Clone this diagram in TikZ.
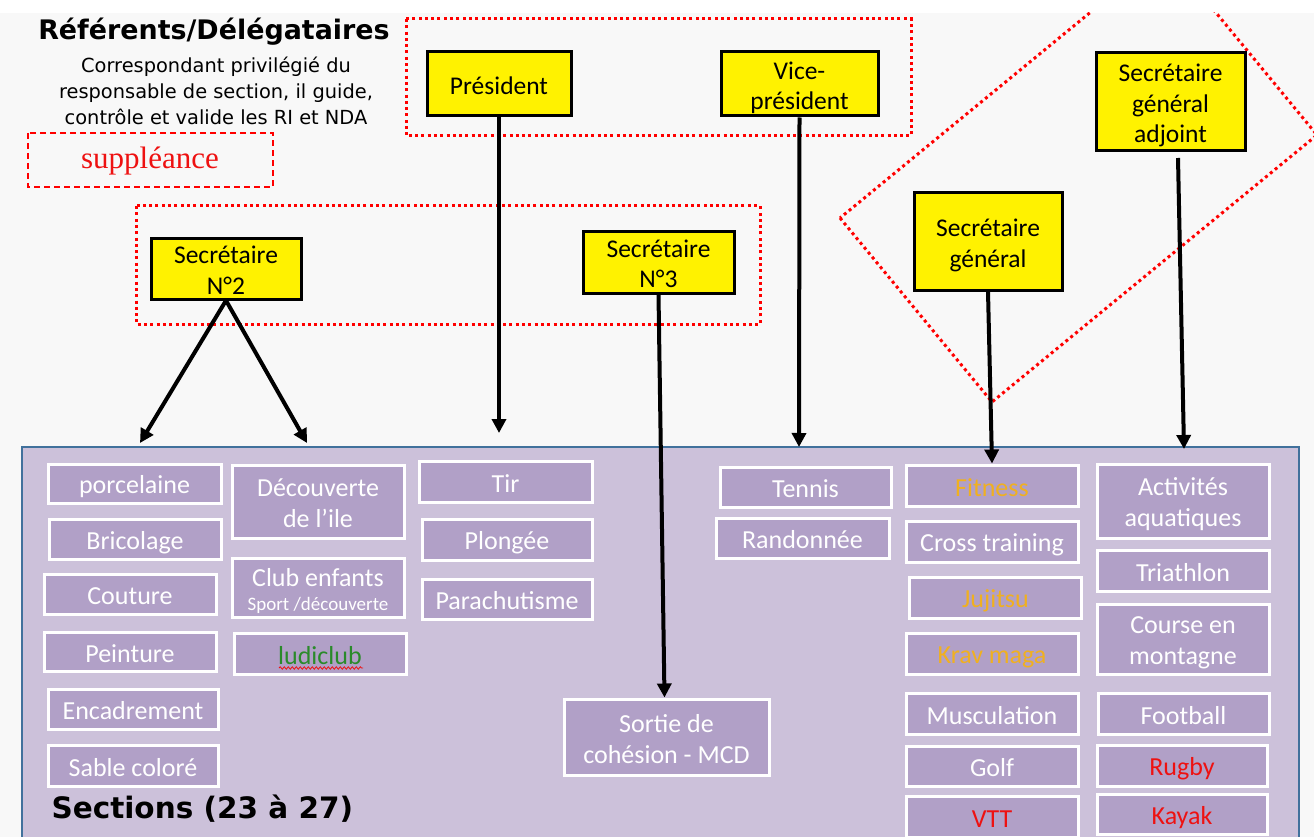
\documentclass[tikz,border=0pt]{standalone}
\usepackage{fontspec}
\setmainfont{Carlito}
\newfontfamily\dejavu{DejaVu Sans}
\newfontfamily\serifr{Liberation Serif}
\usetikzlibrary{arrows.meta,decorations.pathmorphing}
\definecolor{boxfill}{HTML}{B1A0C7}
\definecolor{bigfill}{HTML}{CCC1DA}
\definecolor{bigborder}{HTML}{41719C}
\definecolor{bgrey}{HTML}{F8F8F8}
\definecolor{orangetxt}{HTML}{F0B020}
\definecolor{redtxt}{HTML}{EE1111}
\definecolor{greentxt}{HTML}{2A8A2A}
\definecolor{dotred}{HTML}{FF0000}
\newcommand\ms{\rule[-4pt]{0pt}{29pt}}
\tikzset{
  ybox/.style={draw=black, line width=3pt, fill=yellow, text=black, align=center, inner sep=0pt,
    font=\fontsize{25.5}{30.5}\selectfont},
  ibox/.style={draw=white, line width=3pt, fill=boxfill, text=white, align=center, inner sep=0pt,
    font=\fontsize{26}{31}\selectfont},
  reddots/.style={draw=dotred, line width=3pt, dash pattern=on 3pt off 3.3pt},
  arr/.style={draw=black, line width=4pt, -{Triangle[width=14pt,length=14pt]}},
}
\begin{document}
\begin{tikzpicture}[x=1pt,y=-1pt]
\useasboundingbox (0,0) rectangle (1314,837);
\clip (0,0) rectangle (1314,837);
\fill[white] (0,0) rectangle (1314,837);
\fill[bgrey] (0,13) rectangle (1314,837);

% titles
\node[font=\dejavu\bfseries\fontsize{26.9}{30}\selectfont] (title) at (214,32) {Référents/Délégataires};
\node[align=center, font=\dejavu\fontsize{19.4}{26}\selectfont] (subtitle) at (216,90.5) {Correspondant privilégié du\\responsable de section, il guide,\\contrôle et valide les RI et NDA};
\draw[dotred, line width=1.5pt, dash pattern=on 6pt off 4pt] (28,133) rectangle (273,187);
\node[text=redtxt, font=\serifr\fontsize{31}{34}\selectfont] (supp) at (150,161) {suppléance};

% dotted frames
\draw[reddots] (406,19) rectangle (911,136);
\draw[reddots] (136,206) rectangle (760,324);
\begin{scope}
\clip (0,13) rectangle (1314,837);
\draw[reddots] (840,218) -- (992,402) -- (1317,135) -- (1165,-49) -- cycle;
\end{scope}

% big box
\draw[bigborder, line width=2pt, fill=bigfill] (22,447) rectangle (1299,860);

% yellow boxes
\node[ybox, minimum width=144pt, minimum height=64pt] (pres) at (499,84) {\ms Président};
\node[ybox, minimum width=157pt, minimum height=64pt] (vp) at (799.5,84) {\ms Vice-\\\ms président};
\node[ybox, minimum width=150pt, minimum height=61pt] (sg2) at (226,268.5) {\ms Secrétaire\\\ms N°2};
\node[ybox, minimum width=151pt, minimum height=62pt] (sg3) at (658.5,262) {\ms Secrétaire\\\ms N°3};
\node[ybox, minimum width=148pt, minimum height=97pt] (sgen) at (988,241.5) {\ms Secrétaire\\\ms général};
\node[ybox, minimum width=149pt, minimum height=98pt] (sga) at (1170.5,102) {\ms Secrétaire\\\ms général\\\ms adjoint};

% inner boxes
\node[ibox, minimum width=173pt, minimum height=39pt] (porc) at (134.5,483.5) {\ms porcelaine};
\node[ibox, minimum width=172pt, minimum height=40pt] (bric) at (135,539) {\ms Bricolage};
\node[ibox, minimum width=172pt, minimum height=40pt] (cout) at (130,594) {\ms Couture};
\node[ibox, minimum width=172pt, minimum height=39pt] (pein) at (130,651.5) {\ms Peinture};
\node[ibox, minimum width=170pt, minimum height=40pt] (enca) at (133,709) {\ms Encadrement};
\node[ibox, minimum width=170pt, minimum height=41pt] (sable) at (133,765.5) {\ms Sable coloré};
\node[ibox, minimum width=172pt, minimum height=73pt] (decou) at (318,501.5) {\ms Découverte\\\ms de l’ile};
\node[ibox, minimum width=172pt, minimum height=59pt] (club) at (318,587.5) {\ms Club enfants\\[-7pt]{\fontsize{19}{22}\selectfont\rule[-3pt]{0pt}{18pt}Sport /découverte}};
\node[ibox, minimum width=172pt, minimum height=41pt, text=greentxt] (ludi) at (320,653.5) {\ms ludiclub};
\draw[redtxt, line width=0.8pt, decorate, decoration={snake, segment length=4pt, amplitude=1.2pt}] (279,668) -- (363,668);
\node[ibox, minimum width=173pt, minimum height=41pt] (tir) at (505.5,481.5) {\ms Tir};
\node[ibox, minimum width=170pt, minimum height=41pt] (plon) at (507,539.5) {\ms Plongée};
\node[ibox, minimum width=170pt, minimum height=40pt] (para) at (507,599) {\ms Parachutisme};
\node[ibox, minimum width=171pt, minimum height=40pt] (tenn) at (805.5,487) {\ms Tennis};
\node[ibox, minimum width=173pt, minimum height=40pt] (rand) at (802.5,538) {\ms Randonnée};
\node[ibox, minimum width=205pt, minimum height=76pt] (sortie) at (666.5,737) {\ms Sortie de\\\ms cohésion - MCD};
\node[ibox, minimum width=172pt, minimum height=41pt, text=orangetxt] (fit) at (992,485.5) {\ms Fitness};
\node[ibox, minimum width=172pt, minimum height=41pt] (cross) at (992,541.5) {\ms Cross training};
\node[ibox, minimum width=172pt, minimum height=41pt, text=orangetxt] (juji) at (995.5,597.5) {\ms Jujitsu};
\node[ibox, minimum width=172pt, minimum height=41pt, text=orangetxt] (krav) at (992,653.5) {\ms Krav maga};
\node[ibox, minimum width=172pt, minimum height=41pt] (musc) at (992,713.5) {\ms Musculation};
\node[ibox, minimum width=172pt, minimum height=40pt] (golf) at (992,766) {\ms Golf};
\node[ibox, minimum width=172pt, minimum height=41pt, text=redtxt] (vtt) at (992,816.5) {\ms VTT};
\node[ibox, minimum width=172pt, minimum height=74pt] (aqua) at (1183,501) {\ms Activités\\\ms aquatiques};
\node[ibox, minimum width=172pt, minimum height=41pt] (tri) at (1183,570.5) {\ms Triathlon};
\node[ibox, minimum width=172pt, minimum height=70pt] (course) at (1183,639) {\ms Course en\\\ms montagne};
\node[ibox, minimum width=171pt, minimum height=41pt] (foot) at (1183.5,713.5) {\ms Football};
\node[ibox, minimum width=170pt, minimum height=41pt, text=redtxt] (rugby) at (1182,765.5) {\ms Rugby};
\node[ibox, minimum width=170pt, minimum height=40pt, text=redtxt] (kayak) at (1182,814) {\ms Kayak};

\node[anchor=west, font=\dejavu\bfseries\fontsize{29.5}{32}\selectfont] (sections) at (48,809) {Sections (23 à 27)};

% arrow end points
\coordinate (e1) at (140,443);
\coordinate (e2) at (307,443);
\coordinate (e3) at (499,433);
\coordinate (e4) at (799,447);
\coordinate (e6) at (1184,449);
\coordinate (s6) at (1178,158);

\draw[arr] (sg2.south) -- (e1);
\draw[arr] (sg2.south) -- (e2);
\draw[arr] (pres.south) -- (e3);
\draw[arr] (vp.south) -- (e4);
\draw[arr] (sg3.south) -- ([xshift=-2pt]sortie.north);
\draw[arr] (sgen.south) -- (fit.north);
\draw[arr] (s6) -- (e6);
\end{tikzpicture}
\end{document}
